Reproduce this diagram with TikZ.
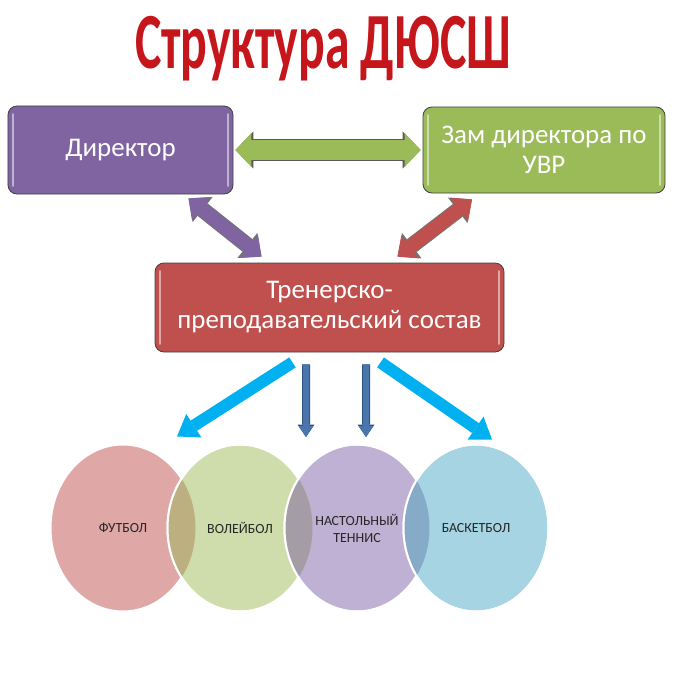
\documentclass[tikz,border=0pt]{standalone}
\usepackage{fontspec}
\setmainfont{Carlito}
\usetikzlibrary{arrows.meta,shapes.geometric}
\definecolor{dirpurple}{HTML}{8064A2}
\definecolor{zamgreen}{HTML}{9BBB59}
\definecolor{staffred}{HTML}{C0504D}
\definecolor{skyblue}{HTML}{00B0F0}
\definecolor{steelblue}{HTML}{4A76AD}
\definecolor{steeldark}{HTML}{2E5283}
\definecolor{titlered}{HTML}{C5161C}
\definecolor{footpink}{HTML}{DFA7A6}
\definecolor{volleygreen}{HTML}{CFDDAC}
\definecolor{tennislilac}{HTML}{BFB1D3}
\definecolor{basketblue}{HTML}{A6D4E2}
\definecolor{lensa}{HTML}{BCAF80}
\definecolor{lensb}{HTML}{A59DA5}
\definecolor{lensc}{HTML}{86ABC9}
\tikzset{
  post/.style={draw=black!75, line width=0.8bp, rounded corners=9bp, inner sep=0pt,
    align=center, text=white, font=\fontsize{27}{30}\selectfont,
    path picture={\draw[white, opacity=0.5, line width=1.6bp, line cap=round]
      ([shift={(5bp,-8bp)}]path picture bounding box.north west) -- ([shift={(5bp,8bp)}]path picture bounding box.south west)
      ([shift={(-5bp,-8bp)}]path picture bounding box.north east) -- ([shift={(-5bp,8bp)}]path picture bounding box.south east);}},
  sport/.style={ellipse, minimum width=145bp, minimum height=167bp, inner sep=0pt,
    draw=white, line width=2bp, align=center, text=black!85, font=\fontsize{14}{17}\selectfont},
  flat/.style={draw=zamgreen, line width=20bp,
    arrows={Triangle[width=34bp,length=16bp,line width=0pt]-Triangle[width=34bp,length=16bp,line width=0pt]},
    preaction={draw=black!65, line width=22bp,
      arrows={Triangle[width=37bp,length=18bp,line width=0pt]-Triangle[width=37bp,length=18bp,line width=0pt]}}},
  slant/.style={draw=#1, line width=14bp,
    arrows={Triangle[width=29bp,length=16bp,line width=0pt]-Triangle[width=29bp,length=16bp,line width=0pt]},
    preaction={draw=black!55, line width=16bp,
      arrows={Triangle[width=32bp,length=18bp,line width=0pt]-Triangle[width=32bp,length=18bp,line width=0pt]}}},
  spread/.style={draw=skyblue, line width=12bp,
    arrows={-Triangle[width=28bp,length=20bp,line width=0pt]}},
  drop/.style={draw=steelblue, line width=6bp,
    arrows={-Triangle[width=15bp,length=11bp,line width=0pt]},
    preaction={draw=steeldark, line width=8bp,
      arrows={-Triangle[width=17bp,length=12.5bp,line width=0pt]}}}
}
\begin{document}
\begin{tikzpicture}[x=1bp, y=1bp]
\useasboundingbox (0,0) rectangle (674,-691);
%%%%%%%%%%%%%
\node[text=titlered, font=\bfseries\fontsize{50}{52}\selectfont] (title) at (323,-49) {\scalebox{1}[1.6]{Структура ДЮСШ}};
%%%%%%%%%%%%%
\node[post, fill=dirpurple, minimum width=225bp, minimum height=88bp] (director) at (120.5,-150) {Директор};
\node[post, fill=zamgreen, minimum width=242bp, minimum height=86bp] (zam) at (544,-150) {Зам директора по\\УВР};
\node[post, fill=staffred, minimum width=349bp, minimum height=89bp] (staff) at (329.5,-307.5) {Тренерско-\\преподавательский состав};
%%%%%%%%%%%%%
\node[sport, fill=footpink] (foot) at (123,-528) {ФУТБОЛ};
\node[sport, fill=volleygreen] (volley) at (240,-528) {ВОЛЕЙБОЛ};
\begin{scope}
  \clip (foot.center) ellipse [x radius=72.5, y radius=83.5];
  \fill[lensa] (volley.center) ellipse [x radius=72.5, y radius=83.5];
\end{scope}
\draw[white, line width=2bp] (volley.center) ellipse [x radius=72.5, y radius=83.5];
\node[sport, fill=tennislilac] (tennis) at (357,-528) {НАСТОЛЬНЫЙ\\ТЕННИС};
\begin{scope}
  \clip (volley.center) ellipse [x radius=72.5, y radius=83.5];
  \fill[lensb] (tennis.center) ellipse [x radius=72.5, y radius=83.5];
\end{scope}
\draw[white, line width=2bp] (tennis.center) ellipse [x radius=72.5, y radius=83.5];
\node[sport, fill=basketblue] (basket) at (476,-528) {БАСКЕТБОЛ};
\begin{scope}
  \clip (tennis.center) ellipse [x radius=72.5, y radius=83.5];
  \fill[lensc] (basket.center) ellipse [x radius=72.5, y radius=83.5];
\end{scope}
\draw[white, line width=2bp] (basket.center) ellipse [x radius=72.5, y radius=83.5];
%%%%%%%%%%%%%
\draw[flat] ([xshift=2bp]director.east) -- ([xshift=-2bp]zam.west);
\draw[slant=dirpurple] ([shift={(68bp,-4bp)}]director.south) -- ([shift={(-68bp,6bp)}]staff.north);
\draw[slant=staffred] ([shift={(-72bp,-6bp)}]zam.south) -- ([shift={(68bp,6bp)}]staff.north);
%%%%%%%%%%%%%
\draw[spread] ([shift={(-37bp,-10bp)}]staff.south) -- ([shift={(54bp,7bp)}]foot.north);
\draw[spread] ([shift={(51bp,-10bp)}]staff.south) -- ([shift={(16bp,4bp)}]basket.north);
\draw[drop] ([shift={(-23.5bp,-12bp)}]staff.south) -- ([shift={(66bp,6.5bp)}]volley.north);
\draw[drop] ([shift={(36.5bp,-12bp)}]staff.south) -- ([shift={(9bp,6.5bp)}]tennis.north);
\end{tikzpicture}
\end{document}
